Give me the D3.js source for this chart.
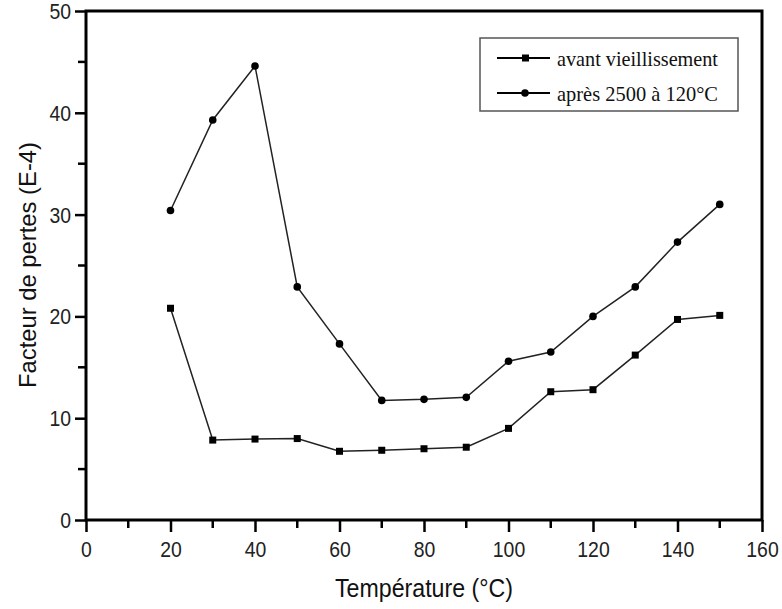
<!DOCTYPE html>
<html>
<head>
<meta charset="utf-8">
<script src="https://cdn.jsdelivr.net/npm/d3@7"></script>
<style>
  html, body { margin: 0; padding: 0; background: #fff; }
  svg { display: block; }
</style>
</head>
<body>
<svg id="chart" width="782" height="609"></svg>
<script>
// Temperatures (°C)
const temperatures = [20, 30, 40, 50, 60, 70, 80, 90, 100, 110, 120, 130, 140, 150];
// Loss factor (E-4) before ageing
const avantVieillissement = [20.8, 7.85, 7.95, 8.0, 6.75, 6.85, 7.0, 7.15, 9.0, 12.6, 12.8, 16.2, 19.7, 20.1];
// Loss factor (E-4) after 2500 h at 120 °C
const apres2500 = [30.4, 39.3, 44.6, 22.9, 17.3, 11.75, 11.85, 12.05, 15.6, 16.5, 20.0, 22.9, 27.3, 31.0];

const xTicks = [0, 20, 40, 60, 80, 100, 120, 140, 160];
const yTicks = [0, 10, 20, 30, 40, 50];
const seriesNames = ["avant vieillissement", "après 2500 à 120°C"];

const svg = d3.select("#chart");
const plotLeft = 86, plotRight = 762, plotTop = 11, plotBottom = 520;

const x = d3.scaleLinear().domain([0, 160]).range([plotLeft, plotRight]);
const y = d3.scaleLinear().domain([0, 50]).range([plotBottom, plotTop]);

const sansFont = "'Liberation Sans', Arial, sans-serif";
const serifFont = "'Liberation Serif', 'Times New Roman', serif";

// Minor ticks
const xMinor = d3.range(10, 160, 20);
const yMinor = d3.range(5, 50, 10);

svg.append("g").selectAll("line").data(xMinor).join("line")
  .attr("x1", d => x(d)).attr("x2", d => x(d))
  .attr("y1", plotBottom).attr("y2", plotBottom + 8)
  .attr("stroke", "#000").attr("stroke-width", 2.5);
svg.append("g").selectAll("line").data(yMinor).join("line")
  .attr("y1", d => y(d)).attr("y2", d => y(d))
  .attr("x1", plotLeft).attr("x2", plotLeft - 8)
  .attr("stroke", "#000").attr("stroke-width", 2.5);

// Bottom axis
const xAxis = svg.append("g")
  .attr("transform", `translate(0,${plotBottom})`)
  .call(d3.axisBottom(x).tickValues(xTicks).tickSize(12).tickSizeOuter(0).tickPadding(6));
xAxis.select(".domain").remove();
xAxis.selectAll(".tick line").attr("stroke", "#000").attr("stroke-width", 2.5);
xAxis.selectAll(".tick text")
  .attr("font-family", sansFont).attr("font-size", 22).attr("fill", "#222")
  .attr("dy", null).attr("y", 37)
  .attr("textLength", d => String(d).length * 10.8)
  .attr("lengthAdjust", "spacingAndGlyphs");

// Left axis
const yAxis = svg.append("g")
  .attr("transform", `translate(${plotLeft},0)`)
  .call(d3.axisLeft(y).tickValues(yTicks).tickSize(11).tickSizeOuter(0).tickPadding(4));
yAxis.select(".domain").remove();
yAxis.selectAll(".tick line").attr("stroke", "#000").attr("stroke-width", 2.5);
yAxis.selectAll(".tick text")
  .attr("font-family", sansFont).attr("font-size", 22).attr("fill", "#222")
  .attr("dy", "0.34em")
  .attr("textLength", d => String(d).length * 10.8)
  .attr("lengthAdjust", "spacingAndGlyphs");

// Frame
svg.append("rect")
  .attr("x", plotLeft).attr("y", plotTop)
  .attr("width", plotRight - plotLeft).attr("height", plotBottom - plotTop)
  .attr("fill", "none").attr("stroke", "#000").attr("stroke-width", 3);

// Axis titles
svg.append("text")
  .attr("x", 424).attr("y", 597)
  .attr("text-anchor", "middle")
  .attr("font-family", sansFont).attr("font-size", 25).attr("fill", "#111")
  .attr("textLength", 178).attr("lengthAdjust", "spacingAndGlyphs")
  .text("Température (°C)");

svg.append("text")
  .attr("transform", "translate(36,265) rotate(-90)")
  .attr("text-anchor", "middle")
  .attr("font-family", sansFont).attr("font-size", 24).attr("fill", "#111")
  .attr("textLength", 246).attr("lengthAdjust", "spacingAndGlyphs")
  .text("Facteur de pertes (E-4)");

// Series
const line = d3.line().x(d => x(d[0])).y(d => y(d[1]));
const dataA = temperatures.map((t, i) => [t, avantVieillissement[i]]);
const dataB = temperatures.map((t, i) => [t, apres2500[i]]);

svg.append("path").datum(dataA).attr("d", line)
  .attr("fill", "none").attr("stroke", "#222").attr("stroke-width", 1.5);
svg.append("path").datum(dataB).attr("d", line)
  .attr("fill", "none").attr("stroke", "#222").attr("stroke-width", 1.5);

svg.append("g").selectAll("rect").data(dataA).join("rect")
  .attr("x", d => x(d[0]) - 3.5).attr("y", d => y(d[1]) - 3.5)
  .attr("width", 7).attr("height", 7).attr("fill", "#000");
svg.append("g").selectAll("circle").data(dataB).join("circle")
  .attr("cx", d => x(d[0])).attr("cy", d => y(d[1]))
  .attr("r", 3.8).attr("fill", "#000");

// Legend
const legend = svg.append("g");
legend.append("rect")
  .attr("x", 480).attr("y", 38).attr("width", 258).attr("height", 73)
  .attr("fill", "#fff").attr("stroke", "#555").attr("stroke-width", 1.5);

const rows = [58, 93];
rows.forEach((ry, i) => {
  legend.append("line")
    .attr("x1", 497).attr("x2", 550).attr("y1", ry).attr("y2", ry)
    .attr("stroke", "#000").attr("stroke-width", 2);
  if (i === 0) {
    legend.append("rect").attr("x", 522).attr("y", ry - 3.5)
      .attr("width", 7).attr("height", 7).attr("fill", "#000");
  } else {
    legend.append("circle").attr("cx", 525).attr("cy", ry).attr("r", 3.8).attr("fill", "#000");
  }
  legend.append("text")
    .attr("x", 557).attr("y", ry + 8)
    .attr("font-family", serifFont).attr("font-size", 22).attr("fill", "#111")
    .attr("textLength", 161).attr("lengthAdjust", "spacingAndGlyphs")
    .text(seriesNames[i]);
});
</script>
</body>
</html>
